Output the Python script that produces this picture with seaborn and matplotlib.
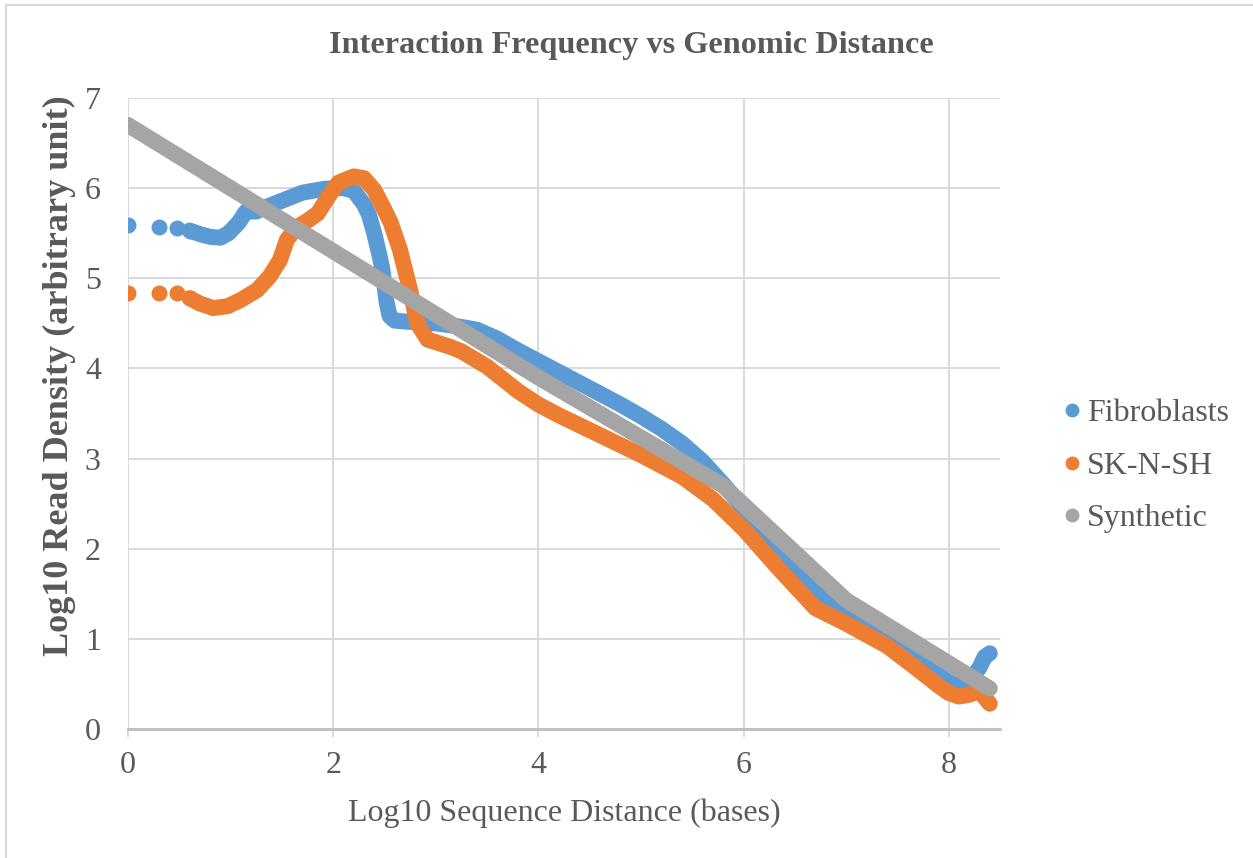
import matplotlib
matplotlib.use("Agg")
import matplotlib.pyplot as plt
from matplotlib.lines import Line2D
import seaborn as sns
import pandas as pd

# values (x = log10 distance, y = log10 density)
fib_x = [0.00, 0.30, 0.48, 0.60, 0.70, 0.80, 0.90, 0.98, 1.08, 1.15, 1.25, 1.30,
         1.50, 1.70, 1.90, 2.00, 2.10, 2.20, 2.30, 2.35, 2.40, 2.45, 2.48, 2.50,
         2.52, 2.55, 2.60, 2.70, 2.85, 3.00, 3.20, 3.40, 3.60, 3.80, 4.00, 4.30,
         4.60, 4.80, 5.00, 5.20, 5.40, 5.60, 5.80, 6.00, 6.20, 6.40, 6.60, 6.80,
         7.00, 7.20, 7.40, 7.60, 7.80, 7.90, 8.00, 8.10, 8.20, 8.30, 8.35, 8.40]
fib_y = [5.59, 5.57, 5.56, 5.53, 5.49, 5.46, 5.45, 5.50, 5.62, 5.74, 5.74, 5.77,
         5.86, 5.95, 5.99, 6.00, 6.00, 5.97, 5.82, 5.70, 5.50, 5.26, 5.10, 4.92,
         4.74, 4.58, 4.53, 4.52, 4.51, 4.50, 4.47, 4.43, 4.33, 4.20, 4.08, 3.90,
         3.72, 3.60, 3.47, 3.33, 3.17, 2.97, 2.72, 2.45, 2.18, 1.93, 1.68, 1.46,
         1.28, 1.14, 0.99, 0.84, 0.70, 0.60, 0.52, 0.48, 0.53, 0.68, 0.80, 0.84]

sk_x = [0.00, 0.30, 0.48, 0.60, 0.70, 0.83, 0.97, 1.10, 1.26, 1.38, 1.48, 1.55,
        1.65, 1.75, 1.85, 1.95, 2.05, 2.20, 2.30, 2.40, 2.50, 2.56, 2.65, 2.75,
        2.82, 2.92, 3.14, 3.25, 3.50, 3.80, 4.00, 4.20, 4.60, 5.00, 5.40, 5.70,
        6.00, 6.35, 6.70, 7.00, 7.40, 7.70, 7.90, 8.00, 8.10, 8.20, 8.30, 8.40]
sk_y = [4.84, 4.84, 4.84, 4.78, 4.72, 4.67, 4.69, 4.76, 4.87, 5.02, 5.20, 5.43,
        5.57, 5.64, 5.72, 5.90, 6.06, 6.13, 6.11, 5.98, 5.76, 5.62, 5.32, 4.87,
        4.50, 4.32, 4.24, 4.19, 4.02, 3.75, 3.60, 3.48, 3.26, 3.04, 2.80, 2.55,
        2.22, 1.77, 1.34, 1.17, 0.92, 0.66, 0.48, 0.40, 0.36, 0.38, 0.42, 0.28]

syn_x = [0.00, 2.00, 4.00, 5.80, 7.00, 8.40]
syn_y = [6.70, 5.30, 3.90, 2.70, 1.43, 0.45]

series = ["Fibroblasts", "SK-N-SH", "Synthetic"]
colors = ["#5B9BD5", "#ED7D31", "#A5A5A5"]
n_sparse = [4, 4, 0]  # leading points that show as separate dots

sns.set_theme(style="white")
plt.rcParams["font.family"] = ["Liberation Serif", "DejaVu Serif"]
text_color = "#595959"

fig = plt.figure(figsize=(12.53, 8.58), dpi=100)
ax = fig.add_axes([128 / 1253, 1 - 729 / 858, 872 / 1253, 631 / 858])

frames = []
for name, xs, ys in zip(series, [fib_x, sk_x, syn_x], [fib_y, sk_y, syn_y]):
    frames.append(pd.DataFrame({"x": xs, "y": ys, "series": name}))
df = pd.concat(frames, ignore_index=True)

lw = 11.5
for i, (name, col) in enumerate(zip(series, colors)):
    d = df[df["series"] == name].reset_index(drop=True)
    dense = d.iloc[max(n_sparse[i] - 1, 0):]
    sns.lineplot(data=dense, x="x", y="y", color=col, linewidth=lw, sort=False,
                 ax=ax, zorder=3 + i, solid_capstyle="round",
                 solid_joinstyle="round", estimator=None)
    sns.scatterplot(data=d.iloc[:max(n_sparse[i], 1)], x="x", y="y", color=col,
                    s=lw ** 2, linewidth=0, ax=ax, zorder=3 + i)

ax.set_xlim(0, 8.5)
ax.set_ylim(0, 7)
ax.set_xticks([0, 2, 4, 6, 8])
ax.set_yticks(range(8))
ax.grid(True, color="#D9D9D9", linewidth=1.4)
ax.set_axisbelow(True)
for s in ["top", "right", "left"]:
    ax.spines[s].set_visible(False)
ax.spines["bottom"].set_color("#BFBFBF")
ax.spines["bottom"].set_linewidth(2)
ax.spines["bottom"].set_zorder(2)
ax.tick_params(axis="x", bottom=True, length=6, width=1.4, color="#D9D9D9",
               labelsize=23, labelcolor=text_color, pad=10)
ax.tick_params(axis="y", left=False, labelsize=23, labelcolor=text_color, pad=13.5)

ax.set_xlabel("Log10 Sequence Distance (bases)", fontsize=23, color=text_color,
              labelpad=13)
ax.set_ylabel("Log10 Read Density (arbitrary unit)", fontsize=26,
              color=text_color, fontweight="bold")
ax.yaxis.set_label_coords((76 - 128) / 872, (729 - 376) / 631)
fig.text(631 / 1253, 1 - 45 / 858, "Interaction Frequency vs Genomic Distance",
         ha="center", va="center", fontsize=23.2, fontweight="bold",
         color=text_color)

handles = [Line2D([], [], linestyle="none", marker="o", markersize=10,
                  markerfacecolor=c, markeredgewidth=0) for c in colors]
leg = ax.legend(handles, series, loc="center left",
                bbox_to_anchor=(1050 / 1253, 1 - 466 / 858),
                bbox_transform=fig.transFigure, frameon=False, fontsize=23,
                handlelength=0.6, handletextpad=0.15, labelspacing=0.72,
                borderaxespad=0)
for t in leg.get_texts():
    t.set_color(text_color)

# outer chart frame (top and left edges visible)
fig.add_artist(Line2D([6 / 1253, 6 / 1253], [0, 1 - 5 / 858],
                      transform=fig.transFigure, color="#D9D9D9", linewidth=1.5))
fig.add_artist(Line2D([6 / 1253, 1], [1 - 5 / 858, 1 - 5 / 858],
                      transform=fig.transFigure, color="#D9D9D9", linewidth=1.5))

fig.savefig("out.png", dpi=100)
